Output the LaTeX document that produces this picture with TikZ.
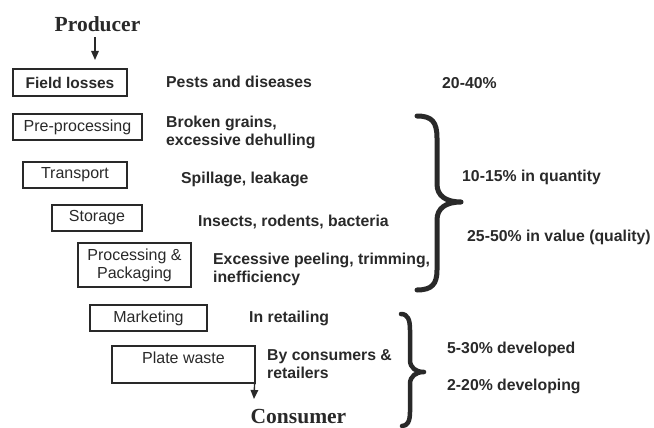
\documentclass[tikz,border=0pt]{standalone}
\usepackage{fontspec}
\setmainfont{Liberation Serif}
\setsansfont{Liberation Sans}
\usetikzlibrary{arrows.meta}
\definecolor{ink}{gray}{0.16}
\begin{document}
\begin{tikzpicture}[x=1pt,y=-1pt,
  every node/.style={text=ink},
  stagebox/.style={draw=ink,line width=1.2pt,inner sep=0pt,font=\sffamily\fontsize{16}{18}\selectfont,align=center},
  cause/.style={anchor=west,inner sep=0pt,font=\sffamily\bfseries\fontsize{15.8}{18}\selectfont,align=left},
  endpt/.style={inner sep=0pt,font=\rmfamily\bfseries\fontsize{21.5}{24}\selectfont},
  flow/.style={draw=ink,line width=1.4pt,-{Triangle[width=7.5pt,length=9pt]}},
  brace/.style={draw=ink,line width=5pt,line cap=round,line join=round}]
\useasboundingbox (0,0) rectangle (654,428);
\node[endpt] (prod) at (97.5,24) {Producer};
\coordinate (a1) at (95,60);
\draw[flow] (95,37) -- (a1);
\node[stagebox,font=\sffamily\bfseries\fontsize{15.5}{18}\selectfont,minimum width=114pt,minimum height=27pt] (field) at (70,82.5) {Field losses};
\node[stagebox,minimum width=129pt,minimum height=26pt] (pre) at (77.5,127) {Pre-processing};
\node[stagebox,minimum width=104pt,minimum height=26pt] (trans) at (75,175) {Transport};
\node[stagebox,minimum width=90pt,minimum height=26pt] (stor) at (97,218) {Storage};
\node[stagebox,minimum width=113pt,minimum height=44pt] (proc) at (134.5,265) {Processing \&\\Packaging};
\node[stagebox,minimum width=117pt,minimum height=26pt] (mark) at (148.5,318) {Marketing};
\node[stagebox,minimum width=143pt,text height=17pt,text depth=20pt] (plate) at (183.5,364.5) {Plate waste};
\node[endpt] (cons) at (298.5,417) {Consumer};
\coordinate (a2) at (254,399);
\draw[flow] ([xshift=-1pt]plate.south east) -- (a2);
\node[cause] (c1) at (166,82) {Pests and diseases};
\node[cause] (c2) at (166,132) {Broken grains,\\excessive dehulling};
\node[cause] (c3) at (181,179) {Spillage, leakage};
\node[cause] (c4) at (198,222) {Insects, rodents, bacteria};
\node[cause] (c5) at (213,269) {Excessive peeling, trimming,\\inefficiency};
\node[cause] (c6) at (249,318) {In retailing};
\node[cause] (c7) at (267,364.5) {By consumers \&\\retailers};
\node[cause] (r1) at (442,83) {20-40\%};
\node[cause] (r2) at (462,177) {10-15\% in quantity};
\node[cause] (r3) at (467,237) {25-50\% in value (quality)};
\node[cause] (r4) at (447,349) {5-30\% developed};
\node[cause] (r5) at (447,386) {2-20\% developing};
\draw[brace] (417,116) .. controls (432,116) and (437,122) .. (437,138) -- (437,184)
  .. controls (437,196) and (446,202) .. (461,202)
  .. controls (446,202) and (437,208) .. (437,220) -- (437,270)
  .. controls (437,284) and (432,290) .. (417,290);
\draw[brace,line width=4.5pt] (401,314) .. controls (408,314) and (410,320) .. (410,330) -- (410,360)
  .. controls (410,368) and (416,372) .. (424,372)
  .. controls (416,372) and (410,376) .. (410,384) -- (410,412)
  .. controls (410,422) and (407,426) .. (402,426);
\end{tikzpicture}
\end{document}
